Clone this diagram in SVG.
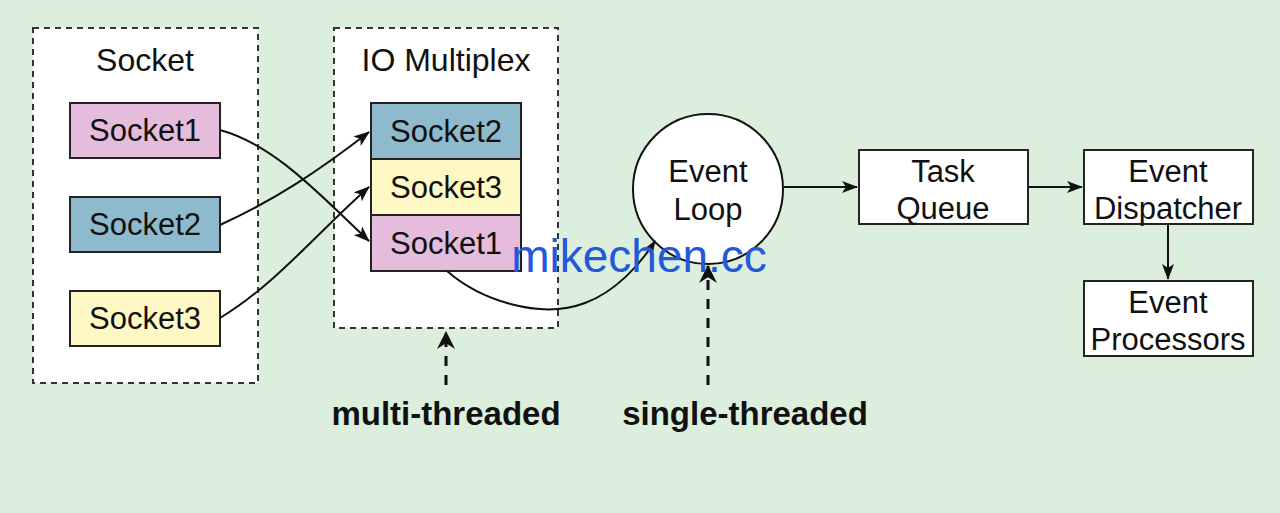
<svg xmlns="http://www.w3.org/2000/svg" width="1280" height="513" viewBox="0 0 1280 513">
<style>
.t{font-family:"Liberation Sans",Arial,sans-serif;font-size:31px;fill:#111;text-anchor:middle}
.h{font-size:32px}
.b{font-weight:bold;font-size:33px}
.box{stroke:#222;stroke-width:2}
.cont{fill:#fff;stroke:#333;stroke-width:2;stroke-dasharray:6 5}
.ln{fill:none;stroke:#111;stroke-width:2}
.dash{fill:none;stroke:#111;stroke-width:3;stroke-dasharray:10 9}
</style>
<defs>
<marker id="ah" viewBox="0 0 16 12" refX="15" refY="6" markerWidth="16" markerHeight="12" markerUnits="userSpaceOnUse" orient="auto">
<path d="M0,0 L16,6 L0,12 L4,6 Z" fill="#111"/>
</marker>
<marker id="ah2" viewBox="0 0 16 16" refX="15" refY="8" markerWidth="18" markerHeight="18" markerUnits="userSpaceOnUse" orient="auto">
<path d="M0,0 L16,8 L0,16 L5,8 Z" fill="#111"/>
</marker>
</defs>
<rect width="1280" height="513" fill="#dcefdc"/>
<g id="socket-group">
<rect class="cont" x="33" y="28" width="225" height="355"/>
<text class="t h" x="145" y="71">Socket</text>
</g>
<g id="s1"><rect class="box" x="70" y="103" width="150" height="55" fill="#e5bcdc"/><text class="t" x="145" y="141">Socket1</text></g>
<g id="s2"><rect class="box" x="70" y="197" width="150" height="55" fill="#8fb9cc"/><text class="t" x="145" y="235">Socket2</text></g>
<g id="s3"><rect class="box" x="70" y="291" width="150" height="55" fill="#fdf8c4"/><text class="t" x="145" y="329">Socket3</text></g>
<g id="io-group">
<rect class="cont" x="334" y="28" width="224" height="300"/>
<text class="t h" x="446" y="71">IO Multiplex</text>
</g>
<g id="io2"><rect class="box" x="371" y="103" width="150" height="56" fill="#8fb9cc"/><text class="t" x="446" y="142">Socket2</text></g>
<g id="io3"><rect class="box" x="371" y="159" width="150" height="56" fill="#fdf8c4"/><text class="t" x="446" y="198">Socket3</text></g>
<g id="io1"><rect class="box" x="371" y="215" width="150" height="56" fill="#e5bcdc"/><text class="t" x="446" y="254">Socket1</text></g>
<g id="eventloop"><circle cx="708" cy="189" r="75" fill="#fff" stroke="#111" stroke-width="2"/><text class="t" x="708" y="182">Event</text><text class="t" x="708" y="220">Loop</text></g>
<g id="taskqueue"><rect class="box" x="859" y="150" width="169" height="74" fill="#fff"/><text class="t" x="943" y="182">Task</text><text class="t" x="943" y="219">Queue</text></g>
<g id="dispatcher"><rect class="box" x="1084" y="150" width="169" height="74" fill="#fff"/><text class="t" x="1168" y="182">Event</text><text class="t" x="1168" y="219">Dispatcher</text></g>
<g id="processors"><rect class="box" x="1084" y="281" width="169" height="75" fill="#fff"/><text class="t" x="1168" y="313">Event</text><text class="t" x="1168" y="350">Processors</text></g>
<g id="connectors">
<path class="ln" d="M220,130 C275,145 320,195 369,241" marker-end="url(#ah)"/>
<path class="ln" d="M220,225 C275,200 320,170 369,132" marker-end="url(#ah)"/>
<path class="ln" d="M220,318 C275,285 320,230 369,187" marker-end="url(#ah)"/>
<path class="ln" d="M447,271 C480,300 540,320 585,303 C615,292 640,265 655,241" marker-end="url(#ah)"/>
<path class="ln" d="M784,187 L857,187" marker-end="url(#ah)"/>
<path class="ln" d="M1028,187 L1082,187" marker-end="url(#ah)"/>
<path class="ln" d="M1168,224 L1168,279" marker-end="url(#ah)"/>
<path class="dash" d="M446,385 L446,332" marker-end="url(#ah2)"/>
<path class="dash" d="M708,385 L708,266" marker-end="url(#ah2)"/>
</g>
<g id="labels">
<text class="t b" x="446" y="425">multi-threaded</text>
<text class="t b" x="745" y="425">single-threaded</text>
</g>
<text x="639" y="272" font-family="Liberation Sans,Arial,sans-serif" font-size="46" fill="#2358dc" text-anchor="middle">mikechen.cc</text>
</svg>
